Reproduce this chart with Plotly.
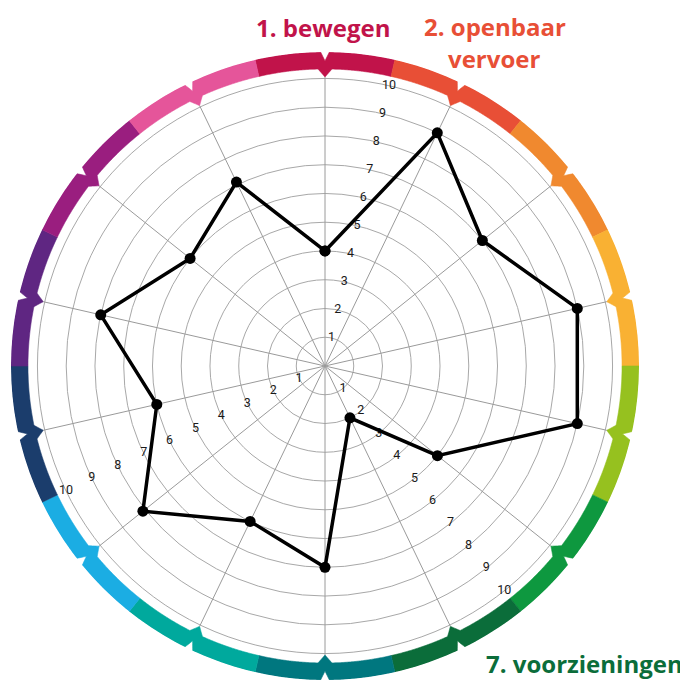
import numpy as np
import plotly.graph_objects as go

# ---------------- data ----------------
spoke_numbers = list(range(1, 15))
scores = [4, 9, 7, 9, 9, 5, 2, 7, 6, 8.1, 6, 8, 6, 7.1]
ring_colors = ["#c1134a", "#e84f36", "#f0892f", "#f9b133", "#96c11f", "#0e983f",
               "#0b6d3a", "#00777f", "#00a99d", "#1bade3", "#1b3d6c",
               "#5f2682", "#9a1e7f", "#e5559a"]
tick_values = [1, 2, 3, 4, 5, 6, 7, 8, 9, 10]
tick_label_positions = [0.5, 5.5, 9.5]   # in spoke units
title_texts = ["1. bewegen", "2. openbaar", "vervoer", "7. voorzieningen"]
title_colors = ["#c1134a", "#e84f36", "#e84f36", "#0b6d3a"]

n = len(spoke_numbers)
step = 360.0 / n
angles = [i * step for i in range(n)]

R_MAX = 10.92
R_OUT, R_IN = 10.92, 10.33
D_OUT, D_IN = 0.31, 0.28
W_OUT, W_IN = 0.8, 1.35

fig = go.Figure()

# coloured ring with inward chevrons at the spokes
for k in range(n):
    c = angles[k]
    th = np.linspace(c - step / 2, c + step / 2, 121)
    th = np.union1d(th, [c - W_IN, c - W_OUT, c, c + W_OUT, c + W_IN])
    r_out = R_OUT - D_OUT * np.clip(1 - np.abs(th - c) / W_OUT, 0, None)
    r_in = R_IN - D_IN * np.clip(1 - np.abs(th - c) / W_IN, 0, None)
    rr = np.concatenate([r_out, r_in[::-1], r_out[:1]])
    tt = np.concatenate([th, th[::-1], th[:1]])
    fig.add_trace(go.Scatterpolar(r=rr, theta=tt, mode="lines", fill="toself",
                                  fillcolor=ring_colors[k],
                                  line=dict(color=ring_colors[k], width=0.6),
                                  hoverinfo="skip"))

# spokes
sr, st = [], []
for a in angles:
    sr += [0, 10.05, None]
    st += [a, a, None]
fig.add_trace(go.Scatterpolar(r=sr, theta=st, mode="lines",
                              line=dict(color="#9a9a9a", width=1), hoverinfo="skip"))

# radial tick labels
for p in tick_label_positions:
    fig.add_trace(go.Scatterpolar(r=tick_values, theta=[p * step] * len(tick_values),
                                  mode="text", text=[str(v) for v in tick_values],
                                  textfont=dict(family="Liberation Sans Narrow, Roboto, sans-serif",
                                                size=12.5, color="#1a1a1a"),
                                  hoverinfo="skip"))

# data
fig.add_trace(go.Scatterpolar(r=scores + scores[:1], theta=angles + angles[:1],
                              mode="lines+markers",
                              line=dict(color="black", width=3.5),
                              marker=dict(color="black", size=11)))

W, H = 688, 680
title_pos = [(314.5, 19.5), (486.7, 18.5), (486, 50.5), (576, 655)]
annotations = []
for txt, col, (px, py) in zip(title_texts, title_colors, title_pos):
    annotations.append(dict(text=txt, x=px / W, y=1 - py / H, xref="paper", yref="paper",
                            xanchor="center", yanchor="middle", showarrow=False,
                            font=dict(family="Open Sans", size=24, color=col, weight="bold")))

cx, cy, rad = 317, 358, 314
fig.update_layout(
    width=W, height=H,
    margin=dict(l=0, r=0, t=0, b=0),
    paper_bgcolor="white",
    showlegend=False,
    annotations=annotations,
    polar=dict(
        domain=dict(x=[(cx - rad) / W, (cx + rad) / W],
                    y=[(H - cy - rad) / H, (H - cy + rad) / H]),
        bgcolor="white",
        radialaxis=dict(range=[0, R_MAX], tickvals=tick_values, showticklabels=False,
                        ticks="", showline=False, gridcolor="#a8a8a8", gridwidth=1),
        angularaxis=dict(direction="clockwise", rotation=90, showgrid=False,
                         showline=False, showticklabels=False, ticks=""),
    ),
)

fig.write_html("out.html")
